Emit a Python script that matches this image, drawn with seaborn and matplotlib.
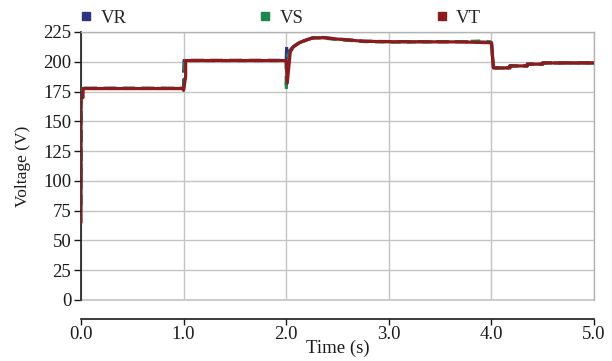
import numpy as np
import pandas as pd
import matplotlib
matplotlib.use("Agg")
import matplotlib.pyplot as plt
from matplotlib.lines import Line2D
import seaborn as sns

# Phase voltages of the inverter output (time in s, voltage in V)
t_vr = [0.0, 0.0, 0.005, 1.0, 1.0, 1.005, 2.0, 2.005, 2.02, 2.04, 2.07, 2.13, 2.2,
        2.26, 2.36, 2.49, 2.62, 2.75, 3.04, 3.69, 3.99, 4.0, 4.02, 4.18, 4.18,
        4.35, 4.35, 4.5, 4.5, 5.0]
v_vr = [100, 177.8, 177.8, 177.8, 190, 201.2, 201.2, 213, 208, 210, 212.8, 216.3, 218.5,
        220.2, 220.4, 219.2, 218.3, 217.3, 216.9, 216.9, 216.4, 218, 195.0, 195.0, 196.6,
        196.6, 198.1, 198.1, 199.1, 199.1]

t_vs = [0.0, 0.0, 0.015, 0.015, 1.0, 1.0, 1.005, 1.01, 2.0, 2.0, 2.015, 2.04, 2.07,
        2.13, 2.2, 2.26, 2.36, 2.49, 2.62, 2.75, 3.04, 3.69, 3.9, 3.99, 4.0, 4.02,
        4.18, 4.18, 4.35, 4.35, 4.5, 4.5, 5.0]
v_vs = [80, 174, 174, 177.6, 177.6, 176, 186, 201, 201, 176, 205, 209, 213,
        216.3, 218.4, 220.1, 219.9, 218.8, 217.9, 217.0, 216.5, 216.9, 217.4, 216.8, 216, 194.8,
        194.8, 196.5, 196.5, 198.0, 198.0, 199.0, 199.0]

t_vt = [0.0, 0.0, 0.02, 0.02, 0.99, 1.0, 1.02, 1.02, 1.99, 2.0, 2.01, 2.04, 2.07,
        2.13, 2.2, 2.26, 2.36, 2.49, 2.62, 2.75, 3.04, 3.69, 3.99, 4.0, 4.02,
        4.18, 4.18, 4.35, 4.35, 4.5, 4.5, 5.0]
v_vt = [65, 170, 170, 177.5, 177.5, 176, 188, 201, 201, 201, 182, 208.5, 212.5,
        216, 218.3, 220, 220.2, 219.1, 218.2, 217.2, 216.8, 216.7, 216, 215.5, 194.8,
        194.8, 196.5, 196.5, 198, 198, 199, 199]

series = ["VR", "VS", "VT"]
colors = {"VR": "#2e3387", "VS": "#17894a", "VT": "#8e1a1c"}

x_ticks = [0.0, 1.0, 2.0, 3.0, 4.0, 5.0]
y_ticks = [0, 25, 50, 75, 100, 125, 150, 175, 200, 225]

df = pd.concat([
    pd.DataFrame({"t": t_vr, "v": v_vr, "phase": "VR"}),
    pd.DataFrame({"t": t_vs, "v": v_vs, "phase": "VS"}),
    pd.DataFrame({"t": t_vt, "v": v_vt, "phase": "VT"}),
], ignore_index=True)

sns.set_theme(style="white")
plt.rcParams["font.family"] = ["Liberation Serif", "DejaVu Serif"]

fig = plt.figure(figsize=(6.12, 3.61), dpi=100)
ax = fig.add_axes([81 / 612, 61 / 361, 513 / 612, 268 / 361])

styles = {"VR": dict(lw=2.3, ls=(0, (4, 2))), "VS": dict(lw=2.3, ls=(0, (3, 2))),
          "VT": dict(lw=2.3, ls="-")}
for name in series:
    sub = df[df["phase"] == name]
    sns.lineplot(data=sub, x="t", y="v", ax=ax, color=colors[name],
                 estimator=None, sort=False, legend=False,
                 linewidth=styles[name]["lw"], linestyle=styles[name]["ls"],
                 zorder=3)

ax.set_xlim(0, 5)
ax.set_ylim(0, 225)
ax.set_xticks(x_ticks)
ax.set_xticklabels([f"{v:.1f}" for v in x_ticks])
ax.set_yticks(y_ticks)

ax.grid(True, color="#c4c4c4", lw=1.0, zorder=0)
ax.axhline(0, color="#c4c4c4", lw=1.2, zorder=1, clip_on=False)

for side in ("top", "right"):
    ax.spines[side].set_visible(True)
    ax.spines[side].set_color("#b4b4b4")
    ax.spines[side].set_linewidth(1.0)
ax.spines["left"].set_color("#1a1a1a")
ax.spines["left"].set_linewidth(1.2)
ax.spines["bottom"].set_color("#1a1a1a")
ax.spines["bottom"].set_linewidth(1.2)
ax.spines["bottom"].set_position(("outward", 14))

ax.tick_params(axis="y", direction="out", length=5, width=1.0, color="#1a1a1a",
               labelsize=13.5, pad=2, left=True, labelcolor="#1a1a1a")
ax.tick_params(axis="x", direction="out", length=4, width=1.0, color="#1a1a1a",
               labelsize=13.5, pad=1, bottom=True, labelcolor="#1a1a1a")

ax.set_xlabel("Time (s)", fontsize=13.5, color="#1a1a1a", labelpad=-3)
ax.set_ylabel("Voltage (V)", fontsize=12.5, color="#1a1a1a", labelpad=9)

handles = [Line2D([], [], marker="s", ls="none", markersize=6,
                  markerfacecolor=colors[n], markeredgecolor=colors[n]) for n in series]
fig.legend(handles, series, ncol=3, loc="upper left",
           bbox_to_anchor=(78 / 612, 1 - 7 / 361), frameon=False, fontsize=13.5,
           handlelength=0.6, handletextpad=0.45, columnspacing=7.1,
           borderpad=0.0, borderaxespad=0.15)

fig.savefig("out.png", dpi=100)
